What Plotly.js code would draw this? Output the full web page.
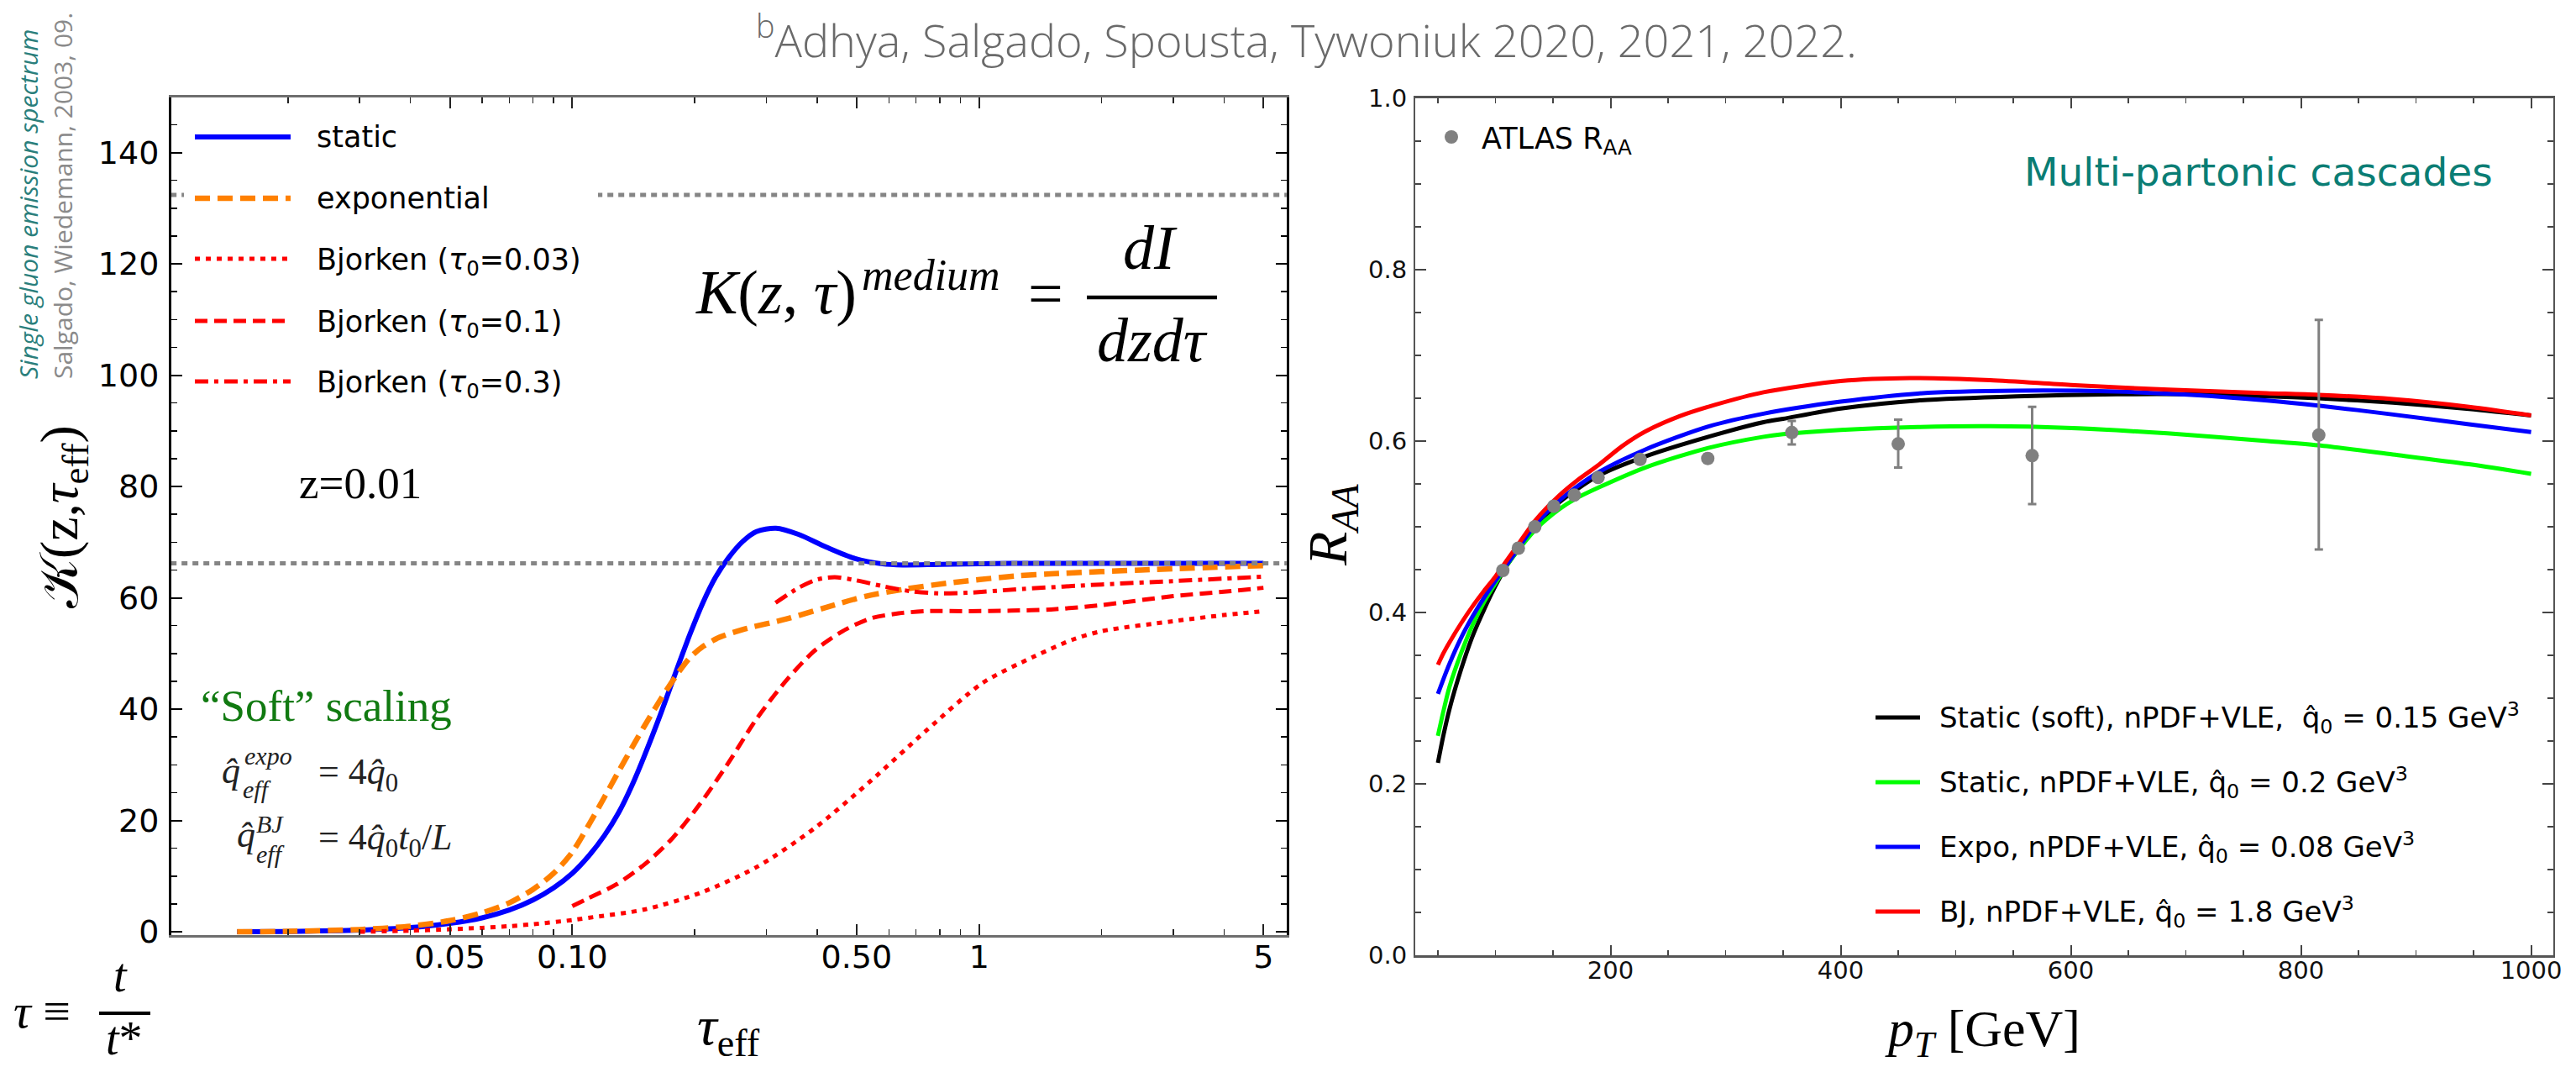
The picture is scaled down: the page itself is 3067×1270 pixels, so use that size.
<!DOCTYPE html>
<html><head><meta charset="utf-8">
<script src="https://cdn.plot.ly/plotly-3.0.1.min.js"></script>
<style>html,body{margin:0;padding:0;background:#fff;}#chart{width:3067px;height:1270px;}</style>
</head><body><div id="chart"></div>
<script>
// ===== Left panel: K(z, tau_eff), z = 0.01 =====
const staticTau = [0.015,0.02,0.03,0.04,0.05,0.06,0.07,0.08,0.09,0.1,0.11,0.12,0.13,0.14,0.15,0.165,0.18,0.195,0.21,0.225,0.2422,0.2622,0.2835,0.3168,0.3596,0.4214,0.4938,0.579,0.65,0.8,1.2,2,5];
const staticK   = [0,0.05,0.3,0.75,1.5,2.5,3.9,5.7,7.9,10.5,13.7,17.3,21.4,26.2,31.4,39.2,46.8,53.6,59.3,63.7,67.2,70.1,71.9,72.5,71.4,69.1,67.1,66.1,65.9,66.0,66.2,66.2,66.2];

const expoTau = [0.015,0.02,0.03,0.04,0.05,0.06,0.07,0.08,0.09,0.1,0.11,0.12,0.13,0.14,0.15,0.165,0.18,0.195,0.21,0.23,0.2622,0.3362,0.4214,0.528,0.662,0.83,1.22,1.5,2.5,5];
const expoK   = [0,0.07,0.4,1.0,2.0,3.4,5.2,7.6,10.5,14.3,19.3,24.2,28.8,33.0,36.8,41.8,46.0,49.3,51.3,52.9,54.3,56.2,58.3,60.3,61.6,62.6,63.9,64.3,65.0,65.8];

const bj003Tau = [0.03,0.04,0.05,0.06,0.07,0.08,0.1,0.1094,0.1505,0.2066,0.2835,0.394,0.5413,0.743,1.02,1.37,1.7,2,3,4,5];
const bj003K   = [0.0,0.2,0.45,0.7,1.0,1.35,2.1,2.5,4.0,7.0,11.6,18.6,27.1,36.2,44.7,49.5,52.5,54.0,55.8,56.9,57.6];

const bj01Tau = [0.1,0.1094,0.1283,0.1505,0.1763,0.2066,0.2422,0.2835,0.3362,0.394,0.4617,0.5413,0.634,0.743,0.94,1.2,1.5,2,3,4,5];
const bj01K   = [4.6,6.0,8.5,12.1,16.8,23.1,30.4,38.2,45.2,50.5,54.0,56.3,57.2,57.6,57.6,57.7,57.9,58.7,60.3,61.1,61.8];

const bj03Tau = [0.316,0.36,0.4,0.4417,0.4938,0.579,0.677,0.795,0.931,1.28,2,3,5];
const bj03K   = [59.1,61.8,63.3,63.7,63.2,62.1,61.2,60.8,60.9,61.6,62.4,63.0,63.8];

const refTau    = [0.0103, 5.7];
const kInf      = [66.2, 66.2];
const kInfTwice = [132.4, 132.4];

const leftNames = ['static','exponential','Bjorken (<i>τ</i><sub>0</sub>=0.03)','Bjorken (<i>τ</i><sub>0</sub>=0.1)','Bjorken (<i>τ</i><sub>0</sub>=0.3)'];
const tauTickVals  = [0.05,0.1,0.5,1,5];
const tauTickText  = ['0.05','0.10','0.50','1','5'];
const tauMinorVals = [0.02,0.03,0.04,0.06,0.07,0.08,0.09,0.2,0.3,0.4,0.6,0.7,0.8,0.9,2,3,4];

// ===== Right panel: R_AA vs pT =====
const softPt = [50,55,60,70,80,90,100,110,120,135,155,170,190,230,285,333,350,400,467,553,640,705,771,815,880,946,1000];
const softR  = [0.2245,0.258,0.287,0.333,0.372,0.403,0.431,0.455,0.474,0.500,0.528,0.543,0.560,0.582,0.605,0.622,0.626,0.638,0.6474,0.6523,0.6546,0.6546,0.6523,0.650,0.6448,0.6376,0.630];

const staticPt = [50,55,60,70,80,90,100,110,120,135,155,170,190,230,285,333,350,400,467,530,596,684,771,815,880,946,1000];
const staticR  = [0.256,0.286,0.313,0.352,0.385,0.412,0.434,0.455,0.473,0.497,0.520,0.533,0.546,0.569,0.592,0.605,0.608,0.613,0.6164,0.6173,0.6154,0.609,0.600,0.595,0.5843,0.573,0.5618];

const expoPt = [50,55,60,70,80,90,100,110,120,135,155,170,190,230,285,333,400,467,553,640,705,771,815,880,946,1000];
const expoR  = [0.305,0.323,0.340,0.370,0.395,0.417,0.437,0.456,0.475,0.503,0.530,0.546,0.564,0.590,0.617,0.632,0.646,0.6555,0.6588,0.6578,0.654,0.6474,0.6415,0.631,0.6196,0.6105];

const bjPt = [50,55,60,70,80,90,100,110,120,135,155,170,190,210,230,260,290,333,400,460,530,600,685,770,815,880,946,1000];
const bjR  = [0.339,0.353,0.365,0.387,0.407,0.425,0.442,0.461,0.480,0.508,0.536,0.553,0.5725,0.594,0.611,0.629,0.642,0.657,0.670,0.6735,0.671,0.6655,0.660,0.656,0.654,0.649,0.640,0.630];

const atlasPt      = [106.4,119.9,134.2,150.7,168.5,189.2,225.7,284.5,357.5,450,566.4,815.5];
const atlasR       = [0.449,0.475,0.500,0.524,0.537,0.5575,0.5787,0.5797,0.610,0.5967,0.583,0.607];
const atlasErrUp   = [0,0,0,0,0,0,0,0.005,0.0135,0.0283,0.057,0.1345];
const atlasErrDown = [0,0,0,0,0,0,0,0.005,0.014,0.0277,0.0565,0.1335];

const rightNames = [
  'Static (soft), nPDF+VLE,\u00a0\u00a0q\u0302<sub>0</sub> = 0.15 GeV<sup>3</sup>',
  'Static, nPDF+VLE, q\u0302<sub>0</sub> = 0.2 GeV<sup>3</sup>',
  'Expo, nPDF+VLE, q\u0302<sub>0</sub> = 0.08 GeV<sup>3</sup>',
  'BJ, nPDF+VLE, q\u0302<sub>0</sub> = 1.8 GeV<sup>3</sup>'
];

// ===== styling / placement =====
const W = 3067, H = 1270;
const fx = X => X / W;
const fy = Y => 1 - Y / H;
const SERIF = 'Liberation Serif, Times New Roman, serif';
const SANS = 'DejaVu Sans, sans-serif';

const sty = {
  blue:   {color:'#0000ff', width:6, dash:'solid'},
  orange: {color:'#ff8000', width:6.5, dash:'18px,9px'},
  rdot:   {color:'#ff0000', width:5, dash:'6px,7px'},
  rdash:  {color:'#ff0000', width:5, dash:'15px,8px'},
  rdd:    {color:'#ff0000', width:5, dash:'16px,7px,5px,7px'},
  gray:   {color:'#858585', width:5, dash:'7px,6px'}
};
const rsty = [
  {color:'#000000', width:5},
  {color:'#00ff00', width:5},
  {color:'#0000ff', width:5},
  {color:'#ff0000', width:5}
];

function ln(x, y, name, line, xa, ya, smooth) {
  return {x, y, name, type:'scatter', mode:'lines',
    line:Object.assign(smooth === false ? {shape:'linear'} : {shape:'spline', smoothing:0.8}, line),
    xaxis:xa, yaxis:ya, hoverinfo:'skip'};
}

const traces = [
  ln(staticTau, staticK, leftNames[0], sty.blue, 'x', 'y'),
  ln(expoTau, expoK, leftNames[1], sty.orange, 'x', 'y'),
  ln(bj003Tau, bj003K, leftNames[2], sty.rdot, 'x', 'y'),
  ln(bj01Tau, bj01K, leftNames[3], sty.rdash, 'x', 'y'),
  ln(bj03Tau, bj03K, leftNames[4], sty.rdd, 'x', 'y'),
  ln(refTau, kInf, 'K\u221e', sty.gray, 'x', 'y', false),
  ln(refTau, kInfTwice, '2K\u221e', sty.gray, 'x', 'y', false),
  ln(softPt, softR, rightNames[0], rsty[0], 'x2', 'y2'),
  ln(staticPt, staticR, rightNames[1], rsty[1], 'x2', 'y2'),
  ln(expoPt, expoR, rightNames[2], rsty[2], 'x2', 'y2'),
  ln(bjPt, bjR, rightNames[3], rsty[3], 'x2', 'y2'),
  {x:atlasPt, y:atlasR, name:'ATLAS R<sub>AA</sub>', type:'scatter', mode:'markers', xaxis:'x2', yaxis:'y2',
   marker:{color:'#808080', size:16},
   error_y:{type:'data', symmetric:false, array:atlasErrUp, arrayminus:atlasErrDown, color:'#808080', thickness:3, width:5}}
];

const axCommon = {showgrid:false, zeroline:false, showline:true, mirror:'ticks', ticks:'inside'};

// legend swatches and annotations
const shapes = [
  {type:'rect', xref:'paper', yref:'paper', x0:fx(219), x1:fx(712), y0:fy(480), y1:fy(133), fillcolor:'#ffffff', line:{width:0}, layer:'above'}
];
const leftRows = [163, 236, 308, 382, 454];
const leftSty = [sty.blue, sty.orange, sty.rdot, sty.rdash, sty.rdd];
leftRows.forEach((Y, i) => {
  shapes.push({type:'line', xref:'paper', yref:'paper', x0:fx(232), x1:fx(346), y0:fy(Y), y1:fy(Y), line:{color:leftSty[i].color, width:leftSty[i].width, dash:leftSty[i].dash}, layer:'above'});
});
const rightRows = [854, 931, 1008, 1085];
rightRows.forEach((Y, i) => {
  shapes.push({type:'line', xref:'paper', yref:'paper', x0:fx(2233), x1:fx(2286), y0:fy(Y), y1:fy(Y), line:{color:rsty[i].color, width:5}, layer:'above'});
});
shapes.push({type:'circle', xref:'paper', yref:'paper', x0:fx(1720), x1:fx(1736), y0:fy(171), y1:fy(155), fillcolor:'#808080', line:{width:0}, layer:'above'});
shapes.push({type:'line', xref:'paper', yref:'paper', x0:fx(1294), x1:fx(1449), y0:fy(354), y1:fy(354), line:{color:'#000', width:4.5}, layer:'above'});
shapes.push({type:'line', xref:'paper', yref:'paper', x0:fx(118), x1:fx(179), y0:fy(1206), y1:fy(1206), line:{color:'#000', width:4}, layer:'above'});

function ann(text, X, Y, font, opts) {
  return Object.assign({text, x:fx(X), y:fy(Y), xref:'paper', yref:'paper', showarrow:false, xanchor:'center', yanchor:'middle', font}, opts || {});
}
const annotations = [
  ann('<sup>b</sup>Adhya, Salgado, Spousta, Tywoniuk 2020, 2021, 2022.', 1555, 44, {family:'Open Sans, sans-serif', size:54, color:'#6a6a6a', weight:300}),
  ann('Single gluon emission spectrum', 33, 453, {family:'Open Sans, sans-serif', size:30, color:'#2b7f7c', style:'italic'}, {textangle:-90, yanchor:'bottom'}),
  ann('Salgado, Wiedemann, 2003, 09.', 74, 453, {family:'Open Sans, sans-serif', size:30, color:'#8a8a8a'}, {textangle:-90, yanchor:'bottom'}),
  ann('𝒦(z,<i>τ</i><sub>eff</sub>)', 75, 615, {family:SERIF, size:64, color:'#000'}, {textangle:-90}),
  ann('<i>τ</i><sub>eff</sub>', 868, 1269, {family:SERIF, size:66, color:'#000'}, {yanchor:'bottom'}),
  ann('<i>K</i>(<i>z</i>, <i>τ</i>)', 826, 348, {family:SERIF, size:74, color:'#000'}, {xanchor:'left'}),
  ann('<i>medium</i>', 1024, 328, {family:SERIF, size:52, color:'#000'}, {xanchor:'left'}),
  ann('=', 1245, 349, {family:SERIF, size:74, color:'#000'}),
  ann('<i>dI</i>', 1369, 295, {family:SERIF, size:74, color:'#000'}),
  ann('<i>dzdτ</i>', 1372, 405, {family:SERIF, size:74, color:'#000'}),
  ann('z=0.01', 429, 575, {family:SERIF, size:53, color:'#000'}),
  ann('“Soft” scaling', 237, 840, {family:SERIF, size:53, color:'#117a11'}, {xanchor:'left'}),
  ann('<i>q\u0302</i>', 275, 917, {family:SERIF, size:44, color:'#222'}),
  ann('<i>expo</i>', 289, 899, {family:SERIF, size:30, color:'#222'}, {xanchor:'left'}),
  ann('<i>eff</i>', 287, 939, {family:SERIF, size:30, color:'#222'}, {xanchor:'left'}),
  ann('= 4<i>q\u0302</i><sub>0</sub>', 377, 921, {family:SERIF, size:44, color:'#222'}, {xanchor:'left'}),
  ann('<i>q\u0302</i>', 293, 993, {family:SERIF, size:44, color:'#222'}),
  ann('<i>BJ</i>', 303, 980, {family:SERIF, size:30, color:'#222'}, {xanchor:'left'}),
  ann('<i>eff</i>', 303, 1016, {family:SERIF, size:30, color:'#222'}, {xanchor:'left'}),
  ann('= 4<i>q\u0302</i><sub>0</sub><i>t</i><sub>0</sub>/<i>L</i>', 377, 999, {family:SERIF, size:44, color:'#222'}, {xanchor:'left'}),
  ann('<i>τ</i> ≡', 14, 1203, {family:SERIF, size:58, color:'#000'}, {xanchor:'left'}),
  ann('<i>t</i>', 143, 1161, {family:SERIF, size:56, color:'#000'}),
  ann('<i>t</i>*', 148, 1269, {family:SERIF, size:56, color:'#000'}, {yanchor:'bottom'}),
  ann('<i>R</i><sub><i>AA</i></sub>', 1585, 625, {family:SERIF, size:66, color:'#000'}, {textangle:-90}),
  ann('<i>p</i><sub><i>T</i></sub> [GeV]', 2360, 1269, {family:SERIF, size:62, color:'#000'}, {yanchor:'bottom'}),
  ann('Multi-partonic cascades', 2689, 205, {family:SANS, size:47, color:'#0a7d74'}),
  ann('ATLAS R<sub>AA</sub>', 1762, 167, {family:SANS, size:35, color:'#000'}, {xanchor:'left'})
];
leftRows.forEach((Y, i) => annotations.push(ann(leftNames[i], 375, Y + (i >= 2 ? 3 : 0), {family:SANS, size:35, color:'#000'}, {xanchor:'left'})));
rightRows.forEach((Y, i) => annotations.push(ann(rightNames[i], 2307, Y, {family:SANS, size:34, color:'#000'}, {xanchor:'left'})));

const layout = {
  width:W, height:H, margin:{l:0, r:0, t:0, b:0},
  paper_bgcolor:'#fff', plot_bgcolor:'#fff', showlegend:false,
  xaxis: Object.assign({}, axCommon, {
    type:'log', domain:[fx(204), fx(1532)], range:[-1.9855, 0.7562], anchor:'y',
    linecolor:'#6e6e6e', linewidth:3, ticklen:13, tickwidth:2, tickcolor:'#222',
    tickmode:'array', tickvals:tauTickVals, ticktext:tauTickText, ticklabelstandoff:-10,
    tickfont:{family:SANS, size:38, color:'#000'},
    minor:{tickmode:'array', tickvals:tauMinorVals, ticks:'inside', ticklen:7, tickwidth:1.5, tickcolor:'#222'}
  }),
  yaxis: Object.assign({}, axCommon, {
    domain:[fy(1113), fy(116)], range:[-0.6, 149.9], anchor:'x',
    linecolor:'#000', linewidth:3, ticklen:13, tickwidth:2, tickcolor:'#000',
    tick0:0, dtick:20, ticklabelstandoff:4,
    tickfont:{family:SANS, size:38, color:'#000'},
    minor:{tick0:0, dtick:5, ticks:'inside', ticklen:7, tickwidth:1.5, tickcolor:'#000'}
  }),
  xaxis2: Object.assign({}, axCommon, {
    domain:[fx(1685), fx(3040)], range:[30.3, 1019.3], anchor:'y2',
    linecolor:'#555', linewidth:3, ticklen:12, tickwidth:2, tickcolor:'#444',
    tick0:0, dtick:200, ticklabelstandoff:-10,
    tickfont:{family:SANS, size:29, color:'#111'},
    minor:{tick0:0, dtick:50, ticks:'inside', ticklen:6, tickwidth:1.5, tickcolor:'#444'}
  }),
  yaxis2: Object.assign({}, axCommon, {
    domain:[fy(1137), fy(117)], range:[0, 1], anchor:'x2',
    linecolor:'#555', linewidth:2, ticklen:13, tickwidth:2, tickcolor:'#444',
    tick0:0, dtick:0.2, tickformat:'.1f', ticklabelstandoff:2,
    tickfont:{family:SANS, size:29, color:'#111'},
    minor:{tick0:0, dtick:0.05, ticks:'inside', ticklen:7, tickwidth:1.5, tickcolor:'#444'}
  }),
  shapes, annotations
};

Plotly.newPlot('chart', traces, layout, {displayModeBar:false, staticPlot:true});
</script>
</body></html>
